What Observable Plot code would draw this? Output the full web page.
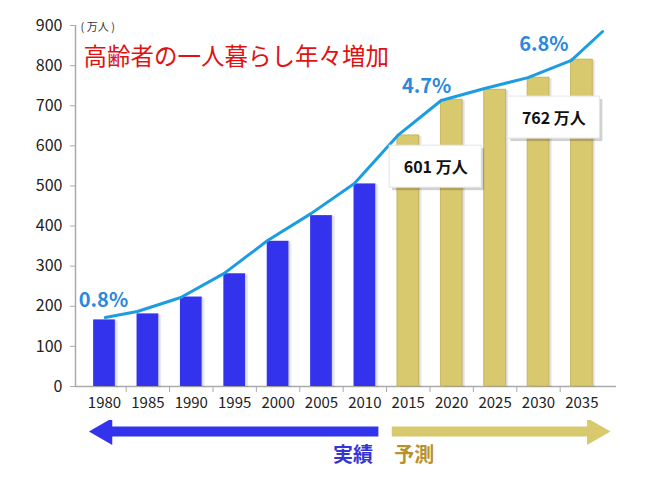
<!DOCTYPE html>
<html>
<head>
<meta charset="utf-8">
<script src="https://cdn.jsdelivr.net/npm/d3@7"></script>
<script src="https://cdn.jsdelivr.net/npm/@observablehq/plot@0.6"></script>
<style>
  body { margin: 0; background: #fff; font-family: "Noto Sans CJK JP", "Noto Sans", sans-serif; }
  #chart { width: 645px; height: 480px; overflow: hidden; }
  #chart svg { display: block; }
  g[aria-label="y-axis tick label"] text { font-size: 16px; }
</style>
</head>
<body>
<div id="chart"></div>
<script>
// ---- data ----
const years = [1980, 1985, 1990, 1995, 2000, 2005, 2010, 2015, 2020, 2025, 2030, 2035];
const values = [166, 181, 223, 281, 362, 426, 505, 626, 715, 740, 770, 815];
const phases = ["実績", "実績", "実績", "実績", "実績", "実績", "実績", "予測", "予測", "予測", "予測", "予測"];
const lineYears = [1981.3, 1985, 1990, 1995, 2000, 2005, 2010, 2015, 2020, 2025, 2030, 2035, 2038.6];
const lineValues = [172, 187, 222, 282, 364, 431, 506, 626, 713, 743, 770, 813, 885];
const yTicks = [0, 100, 200, 300, 400, 500, 600, 700, 800, 900];
const rateYears = [1980, 2020, 2035];
const rateLabels = ["0.8%", "4.7%", "6.8%"];
const calloutYears = [2020, 2035];
const calloutLabels = ["601 万人", "762 万人"];
const titleText = "高齢者の一人暮らし年々増加";
const unitText = "( 万人 )";
const phaseNames = ["実績", "予測"];

// ---- derived tables ----
const bars = years.map((year, i) => ({year, value: values[i], phase: phases[i]}));
const lineData = lineYears.map((year, i) => ({year, value: lineValues[i]}));
const valueOf = y => bars.find(b => b.year === y).value;
const rates = rateYears.map((year, i) => ({year, value: valueOf(year), label: rateLabels[i]}));
const callouts = calloutYears.map((year, i) => ({year, value: valueOf(year), label: calloutLabels[i]}));
const arrows = phaseNames.map(p => {
  const ys = bars.filter(b => b.phase === p).map(b => b.year);
  return {label: p, from: d3.min(ys), to: d3.max(ys)};
});
const boundaries = years.slice(0, -1).map(y => y + 2.5);

// ---- styles ----
const FONT = "Noto Sans CJK JP";
const BLUE = "#3333ee";
const GOLD = "#d8c86e";
const LINE = "#1c9de2";
const RATE = "#2a88e0";
const AXIS = "#aaaaaa";
const xDomain = [1980 - 3.34, 2035 + 3.99];
const W = 645, ML = 75, MR = 29;

const half = 1.25; // half bar width in years

const main = Plot.plot({
  width: W, height: 420,
  marginLeft: ML, marginRight: MR, marginTop: 25, marginBottom: 34,
  style: {fontFamily: FONT, fontSize: "15px", color: "#222", background: "#fff"},
  x: {type: "linear", domain: xDomain, ticks: years, tickSize: 0, tickPadding: 11,
      tickFormat: d => String(d), label: null},
  y: {domain: [0, 900], ticks: yTicks, tickSize: 0, tickPadding: 13, label: null},
  marks: [
    // axis lines
    Plot.ruleX([xDomain[0]], {stroke: AXIS, strokeWidth: 1.5}),
    Plot.ruleY(yTicks, {x1: xDomain[0], x2: xDomain[0], insetLeft: -5, stroke: AXIS}),
    Plot.ruleY([0], {stroke: AXIS, strokeWidth: 1.5}),
    Plot.ruleX(boundaries, {y1: 0, y2: 0, insetBottom: -6, stroke: AXIS}),
    // bar shadows
    Plot.rectY(bars, {x1: d => d.year - half, x2: d => d.year + half, y: "value", fill: "#000", fillOpacity: 0.08, dx: 3, dy: 1}),
    Plot.rectY(bars, {x1: d => d.year - half, x2: d => d.year + half, y: "value", fill: "#000", fillOpacity: 0.08, dx: 1.5}),
    // bars
    Plot.rectY(bars.filter(d => d.phase === "実績"), {x1: d => d.year - half, x2: d => d.year + half, y: "value", fill: BLUE}),
    Plot.rectY(bars.filter(d => d.phase === "予測"), {x1: d => d.year - half, x2: d => d.year + half, y: "value", fill: GOLD, stroke: "#c4b055", strokeWidth: 0.8}),
    // trend line
    Plot.line(lineData, {x: "year", y: "value", stroke: LINE, strokeWidth: 3, dx: -10.5, clip: true}),
    // rate labels
    Plot.text([rates[0]], {x: "year", y: "value", text: "label", fill: RATE, fontSize: 20, fontWeight: "bold", dx: -1, dy: -19}),
    Plot.text([rates[1]], {x: "year", y: "value", text: "label", fill: RATE, fontSize: 20, fontWeight: "bold", dx: -25, dy: -13}),
    Plot.text([rates[2]], {x: "year", y: "value", text: "label", fill: RATE, fontSize: 20, fontWeight: "bold", dx: -38, dy: -15}),
    // callout boxes
    Plot.rect([callouts[0]], {x1: "year", x2: "year", y1: "value", y2: "value", insetLeft: -46, insetRight: -46, insetTop: -21, insetBottom: -21, fill: "#000", fillOpacity: 0.18, dx: -13, dy: 70}),
    Plot.rect([callouts[0]], {x1: "year", x2: "year", y1: "value", y2: "value", insetLeft: -46, insetRight: -46, insetTop: -21, insetBottom: -21, fill: "#fff", stroke: "#e4e4e4", dx: -16, dy: 67}),
    Plot.text([callouts[0]], {x: "year", y: "value", text: "label", fill: "#111", fontSize: 16, fontWeight: "bold", dx: -16, dy: 68}),
    Plot.rect([callouts[1]], {x1: "year", x2: "year", y1: "value", y2: "value", insetLeft: -46, insetRight: -46, insetTop: -21, insetBottom: -21, fill: "#000", fillOpacity: 0.18, dx: -25, dy: 61}),
    Plot.rect([callouts[1]], {x1: "year", x2: "year", y1: "value", y2: "value", insetLeft: -46, insetRight: -46, insetTop: -21, insetBottom: -21, fill: "#fff", stroke: "#e4e4e4", dx: -28, dy: 58}),
    Plot.text([callouts[1]], {x: "year", y: "value", text: "label", fill: "#111", fontSize: 16, fontWeight: "bold", dx: -28, dy: 59}),
    // unit + title
    Plot.text([unitText], {frameAnchor: "top-left", text: d => d, textAnchor: "start", lineAnchor: "middle", fontSize: 11, fill: "#333", dx: 5, dy: 2}),
    Plot.text([titleText], {frameAnchor: "top-left", text: d => d, textAnchor: "start", lineAnchor: "middle", fontSize: 23.5, fill: "#e01212", dx: 8, dy: 32})
  ]
});

const lower = Plot.plot({
  width: W, height: 60,
  marginLeft: ML, marginRight: MR, marginTop: 11, marginBottom: 25,
  style: {fontFamily: FONT, background: "#fff"},
  x: {type: "linear", domain: xDomain, axis: null},
  y: {domain: [0, 1], axis: null},
  marks: [
    Plot.ruleY([arrows[0]], {y: 1, x1: "from", x2: "to", stroke: BLUE, strokeWidth: 10, insetLeft: -4, insetRight: -14}),
    Plot.dot([arrows[0]], {x: "from", y: 1, symbol: "triangle", r: 10, rotate: -90, fill: BLUE, stroke: null}),
    Plot.ruleY([arrows[1]], {y: 1, x1: "from", x2: "to", stroke: GOLD, strokeWidth: 10, insetLeft: -16, insetRight: -14}),
    Plot.dot([arrows[1]], {x: "to", y: 1, symbol: "triangle", r: 10, rotate: 90, fill: GOLD, stroke: null, dx: 13}),
    Plot.text([arrows[0]], {x: "to", y: 0, text: "label", textAnchor: "end", fill: "#3535d5", fontSize: 20, fontWeight: "bold", dx: 8}),
    Plot.text([arrows[1]], {x: "from", y: 0, text: "label", textAnchor: "start", fill: "#b8922c", fontSize: 20, fontWeight: "bold", dx: -14})
  ]
});

const chart = document.getElementById("chart");
chart.appendChild(main);
chart.appendChild(lower);
</script>
</body>
</html>
